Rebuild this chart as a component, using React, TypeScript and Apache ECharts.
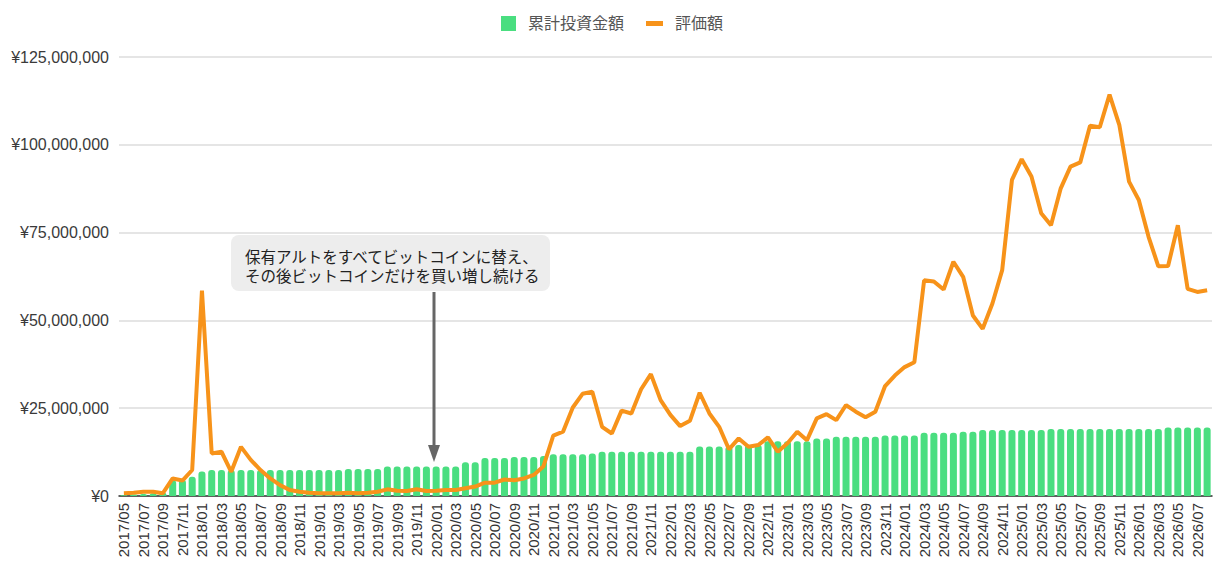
import { useEffect, useRef } from "react";
import * as echarts from "echarts";

// 2017/05 .. 2026/08, monthly
const START_YEAR = 2017;
const START_MONTH = 5;
const MONTH_COUNT = 112;
const months: string[] = [];
for (let i = 0; i < MONTH_COUNT; i++) {
  const m = START_MONTH - 1 + i;
  const y = START_YEAR + Math.floor(m / 12);
  months.push(`${y}/${String((m % 12) + 1).padStart(2, "0")}`);
}

// 累計投資金額 (million yen)
const invested: number[] = [
  0.2, 0.4, 0.6, 0.8, 1.0, 4.5, 4.6, 5.5, 7.0, 7.4,
  7.4, 7.4, 7.4, 7.4, 7.4, 7.4, 7.4, 7.4, 7.4, 7.4,
  7.4, 7.4, 7.4, 7.7, 7.7, 7.7, 7.7, 8.4, 8.4, 8.4,
  8.4, 8.4, 8.4, 8.4, 8.4, 9.6, 9.6, 10.8, 10.8, 10.8,
  11.1, 11.1, 11.1, 11.4, 11.9, 11.9, 11.9, 11.9, 12.1, 12.6,
  12.6, 12.6, 12.6, 12.6, 12.6, 12.6, 12.6, 12.6, 12.6, 14.1,
  14.1, 14.1, 14.1, 14.5, 14.5, 14.5, 15.6, 15.6, 15.6, 15.6,
  15.6, 16.4, 16.4, 16.9, 16.9, 16.9, 16.9, 16.9, 17.2, 17.2,
  17.2, 17.2, 18.0, 18.0, 18.0, 18.0, 18.3, 18.3, 18.8, 18.8,
  18.8, 18.8, 18.8, 18.8, 18.8, 19.1, 19.1, 19.1, 19.1, 19.1,
  19.1, 19.1, 19.1, 19.1, 19.1, 19.1, 19.1, 19.5, 19.5, 19.5,
  19.5, 19.5,
];

// 評価額 (million yen)
const valuation: number[] = [
  0.8, 0.9, 1.2, 1.2, 0.8, 5.0, 4.4, 7.4, 58.5, 12.1,
  12.6, 6.9, 14.0, 10.3, 7.4, 5.0, 3.1, 1.7, 1.2, 0.95,
  0.8, 0.8, 0.8, 0.9, 0.8, 0.9, 1.2, 1.9, 1.5, 1.4,
  1.9, 1.4, 1.5, 1.7, 1.7, 2.2, 2.7, 3.8, 3.8, 4.7,
  4.5, 5.0, 6.0, 8.5, 17.2, 18.3, 25.2, 29.1, 29.7, 19.7,
  17.8, 24.3, 23.5, 30.4, 34.7, 27.3, 23.1, 19.9, 21.4, 29.4,
  23.5, 19.7, 13.3, 16.4, 14.0, 14.5, 16.7, 12.6, 15.0, 18.3,
  15.9, 22.1, 23.3, 21.6, 25.9, 24.0, 22.4, 24.0, 31.3, 34.3,
  36.7, 38.1, 61.4, 61.1, 58.8, 66.7, 62.4, 51.4, 47.6, 54.8,
  64.3, 90.0, 95.9, 91.0, 80.5, 77.1, 87.6, 93.8, 95.0, 105.4,
  105.0, 114.3, 105.7, 89.5, 84.3, 73.8, 65.4, 65.5, 77.1, 59.0,
  58.1, 58.6,
];

const Y_MAX = 125000000;
const Y_STEP = 25000000;

const FONT = "'Liberation Sans', Arial, 'Noto Sans CJK JP', sans-serif";
const GREEN = "#4ade80";
const ORANGE = "#f7931a";

export default function App() {
  const chartRef = useRef<HTMLDivElement>(null);

  useEffect(() => {
    if (!chartRef.current) return;
    const chart = echarts.init(chartRef.current, null, { renderer: "svg" });

    chart.setOption({
      animation: false,
      backgroundColor: "#fff",
      textStyle: { fontFamily: FONT },
      legend: [
        {
          data: [{ name: "累計投資金額", icon: "rect" }],
          left: 496,
          top: 10.5,
          itemWidth: 15,
          itemHeight: 15,
          selectedMode: false,
          textStyle: { fontSize: 16, color: "#555", padding: [0, 0, 0, 7] },
        },
        {
          data: [{ name: "評価額", icon: "rect" }],
          left: 641,
          top: 10.5,
          itemWidth: 17,
          itemHeight: 5,
          selectedMode: false,
          textStyle: { fontSize: 16, color: "#555", padding: [0, 0, 0, 7] },
        },
      ],
      grid: { left: 119, right: 9, top: 57, bottom: 81 },
      xAxis: {
        type: "category",
        data: months,
        axisTick: { show: false },
        axisLine: { lineStyle: { color: "#333", width: 1.5 } },
        axisLabel: {
          rotate: 90,
          interval: 1,
          fontSize: 15,
          color: "#333",
          margin: 7,
        },
      },
      yAxis: {
        type: "value",
        min: 0,
        max: Y_MAX,
        interval: Y_STEP,
        axisLine: { show: false },
        axisTick: { show: false },
        axisLabel: {
          fontSize: 16,
          color: "#3a3a3a",
          margin: 10,
          formatter: (v: number) => "¥" + v.toLocaleString("en-US"),
        },
        splitLine: { lineStyle: { color: "#dddddd", width: 1.5 } },
      },
      series: [
        {
          name: "累計投資金額",
          type: "bar",
          barWidth: "72%",
          data: invested.map((v) => Math.round(v * 1e6)),
          itemStyle: { color: GREEN, borderRadius: [3, 3, 0, 0] },
        },
        {
          name: "評価額",
          type: "line",
          data: valuation.map((v) => Math.round(v * 1e6)),
          showSymbol: false,
          symbol: "none",
          z: 5,
          lineStyle: { color: ORANGE, width: 4 },
          itemStyle: { color: ORANGE },
        },
      ],
      graphic: [
        {
          type: "rect",
          z: 100,
          shape: { x: 231, y: 235, width: 319, height: 56, r: 8 },
          style: { fill: "#ededed" },
        },
        {
          type: "text",
          z: 101,
          x: 245,
          y: 247.5,
          style: {
            text: "保有アルトをすべてビットコインに替え、\nその後ビットコインだけを買い増し続ける",
            font: `15.5px ${FONT}`,
            fill: "#222",
            lineHeight: 19.5,
            verticalAlign: "top",
          },
        },
        {
          type: "line",
          z: 100,
          shape: { x1: 434, y1: 292, x2: 434, y2: 448 },
          style: { stroke: "#666", lineWidth: 3 },
        },
        {
          type: "polygon",
          z: 100,
          shape: { points: [[428, 445], [440, 445], [434, 462]] },
          style: { fill: "#666" },
        },
      ],
    });

    return () => {
      chart.dispose();
    };
  }, []);

  return (
    <div
      ref={chartRef}
      style={{ position: "absolute", left: 0, top: 0, width: 1221, height: 577, background: "#fff" }}
    />
  );
}
